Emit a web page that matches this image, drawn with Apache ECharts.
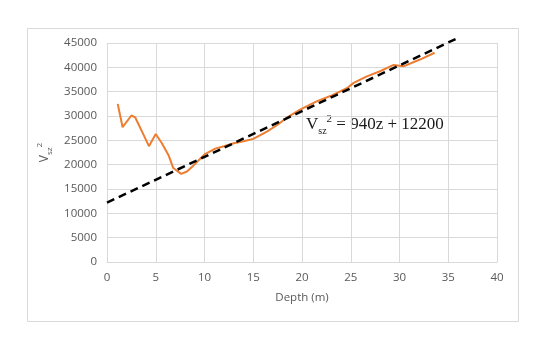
<!DOCTYPE html>
<html>
<head>
<meta charset="utf-8">
<script src="https://cdn.jsdelivr.net/npm/echarts@6/dist/echarts.min.js"></script>
<style>html,body{margin:0;padding:0;background:#fff}#c{width:551px;height:359px}</style>
</head>
<body>
<div id="c"></div>
<script>
var depth = [1.1, 1.6, 2.5, 2.9, 3.9, 4.3, 5.0, 5.6, 6.3, 6.8, 7.6, 8.2, 8.9, 10.0, 11.1, 12.0, 13.0, 14.0, 15.0, 16.4, 17.5, 18.4, 19.8, 21.5, 22.9, 24.6, 25.3, 26.6, 28.0, 29.4, 30.4, 32.1, 33.6];
var vsz2 = [32500, 27700, 30100, 29700, 25500, 23800, 26300, 24500, 22000, 19300, 18100, 18600, 19900, 22100, 23300, 23800, 24400, 24800, 25300, 26800, 28200, 29600, 31300, 33000, 34100, 35700, 36800, 38100, 39200, 40500, 40200, 41600, 43000];
var fitX = [0, 36.2];
var fitY = [12200, 46228];
var xTicks = [0, 40, 5];
var yTicks = [0, 45000, 5000];

var chart = echarts.init(document.getElementById('c'));
var lbl = {color:'#595959', fontSize:11.5, fontFamily:'Open Sans, Noto Sans, sans-serif'};
chart.setOption({
  animation:false,
  grid:{left:107, top:43, right:54, bottom:97},
  xAxis:{type:'value', min:xTicks[0], max:xTicks[1], interval:xTicks[2],
    name:'Depth (m)', nameLocation:'middle', nameGap:30,
    nameTextStyle:{color:'#595959', fontSize:11.5, fontFamily:'Open Sans, Noto Sans, sans-serif'},
    axisLine:{show:true, lineStyle:{color:'#d9d9d9'}}, axisTick:{show:false},
    axisLabel:Object.assign({margin:10}, lbl),
    splitLine:{show:true, lineStyle:{color:'#d9d9d9'}}},
  yAxis:{type:'value', min:yTicks[0], max:yTicks[1], interval:yTicks[2],
    name:'{v|V}{s|sz}{p|2}', nameLocation:'middle', nameGap:50, nameRotate:90,
    nameTextStyle:{rich:{
      v:{color:'#595959', fontSize:12, fontFamily:'Open Sans, sans-serif', lineHeight:18, verticalAlign:'middle'},
      s:{color:'#595959', fontSize:8, fontFamily:'Open Sans, sans-serif', lineHeight:12, verticalAlign:'bottom'},
      p:{color:'#595959', fontSize:8, fontFamily:'Open Sans, sans-serif', lineHeight:10, verticalAlign:'top'}}},
    axisLine:{show:false}, axisTick:{show:false},
    axisLabel:Object.assign({margin:10, formatter:function(v){return String(v);}}, lbl),
    splitLine:{show:true, lineStyle:{color:'#d9d9d9'}}},
  graphic:[
    {type:'rect', shape:{x:27.5, y:28.5, width:491, height:293}, style:{fill:'none', stroke:'#d9d9d9', lineWidth:1}, z:-1},
    {type:'text', left:306, top:114, style:{
      text:'{v|V}{s|sz}{p|2}{v| = 940z + 12200}',
      rich:{
        v:{fontFamily:'Liberation Serif, serif', fontSize:17, fill:'#1a1a1a', lineHeight:22, verticalAlign:'middle'},
        s:{fontFamily:'Liberation Serif, serif', fontSize:10, fill:'#1a1a1a', lineHeight:14, verticalAlign:'bottom'},
        p:{fontFamily:'Liberation Serif, serif', fontSize:11, fill:'#1a1a1a', lineHeight:12, verticalAlign:'top'}}}}
  ],
  series:[
    {type:'line', data:depth.map(function(d,i){return [d, vsz2[i]];}), showSymbol:false,
      lineStyle:{color:'#ED7D31', width:2}, z:2},
    {type:'line', data:fitX.map(function(d,i){return [d, fitY[i]];}), showSymbol:false, clip:false,
      lineStyle:{color:'#000', width:2.5, type:[8,5]}, z:3}
  ]
});
</script>
</body>
</html>
